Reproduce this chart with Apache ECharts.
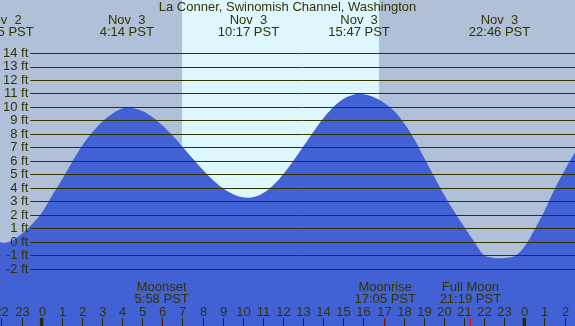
<!DOCTYPE html>
<html>
<head>
<meta charset="utf-8">
<title>La Conner, Swinomish Channel, Washington</title>
<style>
  html, body { margin: 0; padding: 0; background: #b0c0d8; }
  #chart { width: 575px; height: 326px; }
</style>
</head>
<body>
<div id="chart"></div>
<script src="https://cdn.jsdelivr.net/npm/echarts@6/dist/echarts.min.js"></script>
<script>
// hours counted from Nov 3 00:00 PST, tide height in feet
var hours = [-2.5, -2.07, -1.91, -1.5, -1.0, -0.5, 0, 0.5, 1, 1.5,
             2, 2.5, 3, 3.5, 4, 4.23, 4.5, 5, 5.5, 6,
             6.5, 7, 7.5, 8, 8.5, 9, 9.5, 10, 10.28, 10.5,
             11, 11.5, 12, 12.5, 13, 13.5, 14, 14.5, 15, 15.5,
             15.78, 16, 16.5, 17, 17.5, 18, 18.5, 19, 19.5, 20,
             20.5, 21, 21.5, 22, 22.5, 22.79, 23, 23.5, 24, 24.5,
             25, 25.5, 26, 26.5, 27];
var heights = [0.3, 0.0, -0.05, 0.1, 0.6, 1.3, 2.15, 3.4, 4.6, 5.9,
               7.1, 8.1, 8.9, 9.5, 9.9, 9.97, 9.94, 9.71, 9.27, 8.66,
               7.91, 7.07, 6.21, 5.37, 4.62, 4.0, 3.56, 3.32, 3.29, 3.32,
               3.61, 4.19, 5.0, 5.99, 7.07, 8.15, 9.16, 10.0, 10.61, 10.93,
               10.98, 10.96, 10.75, 10.35, 9.75, 8.85, 7.7, 6.3, 4.9, 3.55,
               2.3, 1.15, 0.05, -0.97, -1.18, -1.21, -1.18, -1.05, -0.35, 0.9,
               2.3, 3.9, 5.3, 6.6, 7.8];

// hour ticks along the bottom
var hourTicks = [-2, -1, 0, 1, 2, 3, 4, 5, 6, 7, 8, 9, 10, 11, 12, 13, 14,
                 15, 16, 17, 18, 19, 20, 21, 22, 23, 24, 25, 26];
var hourLabels = ['22', '23', '0', '1', '2', '3', '4', '5', '6', '7', '8', '9', '10', '11', '12', '13', '14',
                  '15', '16', '17', '18', '19', '20', '21', '22', '23', '0', '1', '2'];

// high / low tide labels along the top
var tideTimes = [-1.92, 4.233, 10.283, 15.783, 22.767];
var tideDates = ['Nov  2', 'Nov  3', 'Nov  3', 'Nov  3', 'Nov  3'];
var tideLabels = ['22:05 PST', '4:14 PST', '10:17 PST', '15:47 PST', '22:46 PST'];

// moon events along the bottom
var moonTimes = [5.967, 17.083, 21.317];
var moonNames = ['Moonset', 'Moonrise', 'Full Moon'];
var moonLabels = ['5:58 PST', '17:05 PST', '21:19 PST'];

var sunrise = 6.98, sunset = 16.77;
var midnights = [0, 24];
var ftMin = -2, ftMax = 14;

var textColor = '#333300';
var font = '13px "Liberation Sans", Arial, sans-serif';

var tideData = hours.map(function (h, i) { return [h, heights[i]]; });

function textEl(x, y, str) {
    return { type: 'text', x: x, y: y, style: { text: str, align: 'center', verticalAlign: 'middle', font: font, fill: textColor } };
}

var chart = echarts.init(document.getElementById('chart'));

chart.setOption({
    animation: false,
    backgroundColor: '#b0c0d8',
    title: {
        text: 'La Conner, Swinomish Channel, Washington',
        left: 'center',
        top: 1,
        padding: 0,
        textStyle: { fontSize: 13, fontWeight: 'normal', color: textColor, fontFamily: 'Liberation Sans' }
    },
    grid: [
        // whole picture
        { left: 0, right: 0, top: 0, bottom: 0 },
        // ft lines
        { left: 29, right: 0, top: 53.28, bottom: 57.04 }
    ],
    xAxis: [{
        gridIndex: 0,
        type: 'value',
        min: -2.07,
        max: 26.52,
        show: false
    }, {
        gridIndex: 1,
        type: 'value',
        show: false
    }],
    yAxis: [{
        gridIndex: 0,
        type: 'value',
        min: -6.23,
        max: 17.95,
        show: false
    }, {
        gridIndex: 1,
        type: 'value',
        min: ftMin,
        max: ftMax,
        interval: 1,
        z: 10,
        axisLine: { show: false },
        axisTick: { show: false },
        axisLabel: {
            margin: 2,
            fontSize: 13,
            fontFamily: 'Liberation Sans',
            color: textColor,
            formatter: function (v) { return v + ' ft'; }
        },
        splitLine: { show: true, lineStyle: { color: textColor, width: 1 } }
    }],
    series: [
        {
            // daylight band
            type: 'custom',
            xAxisIndex: 0,
            yAxisIndex: 0,
            z: 1,
            silent: true,
            data: [[sunrise, sunset]],
            renderItem: function (params, api) {
                var cs = params.coordSys;
                var x0 = api.coord([api.value(0), 0])[0];
                var x1 = api.coord([api.value(1), 0])[0];
                return { type: 'rect', shape: { x: x0, y: cs.y, width: x1 - x0, height: cs.height }, style: { fill: '#def7ff' } };
            }
        },
        {
            name: 'tide',
            type: 'line',
            xAxisIndex: 0,
            yAxisIndex: 0,
            z: 2,
            data: tideData,
            smooth: 0.4,
            showSymbol: false,
            lineStyle: { width: 0 },
            areaStyle: { color: '#4161d5', opacity: 1, origin: 'start' }
        },
        {
            // hour ticks and labels
            type: 'custom',
            xAxisIndex: 0,
            yAxisIndex: 0,
            z: 11,
            silent: true,
            data: hourTicks.map(function (h, i) { return [h, i]; }),
            renderItem: function (params, api) {
                var cs = params.coordSys;
                var x = Math.round(api.coord([api.value(0), 0])[0]) + 0.5;
                var bottom = cs.y + cs.height;
                return { type: 'group', children: [
                    { type: 'line', shape: { x1: x, y1: bottom - 8, x2: x, y2: bottom }, style: { stroke: '#2a2a00', lineWidth: 1 } },
                    textEl(x, 312, hourLabels[api.value(1)])
                ] };
            }
        },
        {
            // midnight and moon ticks
            type: 'custom',
            xAxisIndex: 0,
            yAxisIndex: 0,
            z: 12,
            silent: true,
            data: midnights.map(function (t) { return [t, 0]; })
                .concat(moonTimes.map(function (t) { return [t, 1]; })),
            renderItem: function (params, api) {
                var cs = params.coordSys;
                var x = api.coord([api.value(0), 0])[0];
                var red = api.value(1) === 1;
                var w = red ? 1.2 : 3.4;
                return { type: 'rect', shape: { x: x - w / 2, y: cs.y + cs.height - 8, width: w, height: 8 }, style: { fill: red ? '#ff0000' : '#2a2a00' } };
            }
        },
        {
            // high/low labels
            type: 'custom',
            xAxisIndex: 0,
            yAxisIndex: 0,
            z: 12,
            silent: true,
            data: tideTimes.map(function (t, i) { return [t, i]; }),
            renderItem: function (params, api) {
                var x = api.coord([api.value(0), 0])[0];
                var i = api.value(1);
                return { type: 'group', children: [
                    textEl(x, 20.5, tideDates[i]),
                    textEl(x, 32.5, tideLabels[i])
                ] };
            }
        },
        {
            // moon labels
            type: 'custom',
            xAxisIndex: 0,
            yAxisIndex: 0,
            z: 12,
            silent: true,
            data: moonTimes.map(function (t, i) { return [t, i]; }),
            renderItem: function (params, api) {
                var x = api.coord([api.value(0), 0])[0];
                var i = api.value(1);
                return { type: 'group', children: [
                    textEl(x, 287.5, moonNames[i]),
                    textEl(x, 299.5, moonLabels[i])
                ] };
            }
        }
    ]
});
</script>
</body>
</html>
